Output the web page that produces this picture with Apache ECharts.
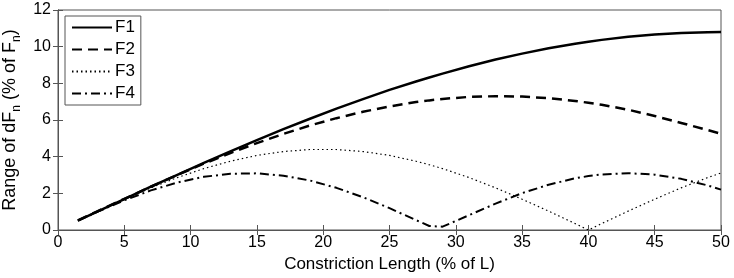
<!DOCTYPE html>
<html>
<head>
<meta charset="utf-8">
<script src="https://cdn.jsdelivr.net/npm/echarts@6/dist/echarts.min.js"></script>
<style>
  html, body { margin: 0; padding: 0; background: #fff; }
  #chart { width: 734px; height: 278px; }
</style>
</head>
<body>
<div id="chart"></div>
<script>
// constriction length, % of L
const lengths = [1.5, 3, 5, 7, 9, 11, 13, 15, 17, 19, 21, 23, 25, 27, 28, 29, 31, 33, 35, 37, 39, 40, 41, 43, 45, 47, 49, 50];

// range of dFn (% of Fn)
const f1 = [0.51, 1.02, 1.69, 2.36, 3.01, 3.66, 4.29, 4.90, 5.50, 6.07, 6.62, 7.14, 7.64, 8.10, 8.32, 8.53, 8.93, 9.30, 9.62, 9.91, 10.16, 10.27, 10.37, 10.54, 10.67, 10.75, 10.79, 10.80];
const f2 = [0.52, 1.03, 1.70, 2.36, 3.00, 3.62, 4.20, 4.74, 5.24, 5.70, 6.10, 6.45, 6.74, 6.98, 7.07, 7.15, 7.26, 7.30, 7.28, 7.19, 7.04, 6.94, 6.83, 6.56, 6.22, 5.84, 5.45, 5.25];
const f3 = [0.52, 1.03, 1.68, 2.30, 2.86, 3.35, 3.75, 4.07, 4.28, 4.39, 4.39, 4.28, 4.07, 3.75, 3.56, 3.35, 2.86, 2.30, 1.68, 1.03, 0.35, 0.00, 0.35, 1.03, 1.68, 2.30, 2.86, 3.11];
const f4 = [0.51, 1.00, 1.62, 2.16, 2.59, 2.90, 3.07, 3.09, 2.96, 2.70, 2.30, 1.79, 1.19, 0.54, 0.22, 0.18, 0.81, 1.44, 2.01, 2.47, 2.82, 2.94, 3.03, 3.10, 3.02, 2.79, 2.43, 2.20];

const xTicks = { min: 0, max: 50, interval: 5 };
const yTicks = { min: 0, max: 12, interval: 2 };

const font = '"Liberation Sans", Arial, sans-serif';
const frame = '#555';

const chart = echarts.init(document.getElementById('chart'));

const pairs = (ys) => lengths.map((x, i) => [x, ys[i]]);

const lineSeries = (name, ys, width, type) => ({
    name,
    type: 'line',
    data: pairs(ys),
    showSymbol: false,
    symbol: 'none',
    smooth: false,
    lineStyle: { color: '#000', width, type },
    itemStyle: { color: '#000' },
    xAxisIndex: 0,
    yAxisIndex: 0,
});

const option = {
    animation: false,
    backgroundColor: '#fff',
    textStyle: { fontFamily: font },
    grid: {
        left: 58,
        right: 13,
        top: 10,
        bottom: 48,
        outerBoundsMode: 'none',
        containLabel: false,
        show: true,
        borderColor: frame,
        borderWidth: 1,
    },
    legend: {
        orient: 'vertical',
        left: 65,
        top: 16,
        padding: [3, 6, 3, 6],
        itemWidth: 40,
        itemHeight: 16,
        itemGap: 5,
        backgroundColor: '#fff',
        borderColor: frame,
        borderWidth: 1,
        borderRadius: 0,
        itemStyle: { opacity: 0 },
        textStyle: { fontFamily: font, fontSize: 17, color: '#000', padding: [0, 0, 0, -2] },
        data: ['F1', 'F2', 'F3', 'F4'],
    },
    xAxis: [
        {
            type: 'value',
            ...xTicks,
            name: 'Constriction Length (% of L)',
            nameLocation: 'middle',
            nameGap: 25,
            nameTextStyle: { fontFamily: font, fontSize: 17, color: '#000' },
            axisLine: { show: true, lineStyle: { color: frame } },
            axisTick: { show: true, inside: true, length: 5, lineStyle: { color: frame } },
            axisLabel: { fontFamily: font, fontSize: 16, color: '#000', margin: 5 },
            splitLine: { show: false },
        },
        {
            type: 'value',
            position: 'top',
            ...xTicks,
            axisLine: { show: true, lineStyle: { color: frame } },
            axisTick: { show: true, inside: true, length: 5, lineStyle: { color: frame } },
            axisLabel: { show: false },
            splitLine: { show: false },
        },
    ],
    yAxis: [
        {
            type: 'value',
            ...yTicks,
            name: '{m|Range of dF}{s|n}{m| (% of F}{s|n}{m|)}',
            nameLocation: 'middle',
            nameGap: 27,
            nameTextStyle: {
                rich: {
                    m: { fontFamily: font, fontSize: 18, color: '#000', lineHeight: 24 },
                    s: { fontFamily: font, fontSize: 12, color: '#000', lineHeight: 12, verticalAlign: 'bottom' },
                },
            },
            axisLine: { show: true, lineStyle: { color: frame } },
            axisTick: { show: true, inside: true, length: 5, lineStyle: { color: frame } },
            axisLabel: { fontFamily: font, fontSize: 16, color: '#000', margin: 7 },
            splitLine: { show: false },
        },
        {
            type: 'value',
            position: 'right',
            ...yTicks,
            axisLine: { show: true, lineStyle: { color: frame } },
            axisTick: { show: true, inside: true, length: 5, lineStyle: { color: frame } },
            axisLabel: { show: false },
            splitLine: { show: false },
        },
    ],
    series: [
        lineSeries('F1', f1, 2.5, 'solid'),
        lineSeries('F2', f2, 2.5, [10, 6]),
        lineSeries('F3', f3, 1.2, [1.5, 3]),
        lineSeries('F4', f4, 2, [9, 4, 2, 4]),
    ],
};

chart.setOption(option);
</script>
</body>
</html>
